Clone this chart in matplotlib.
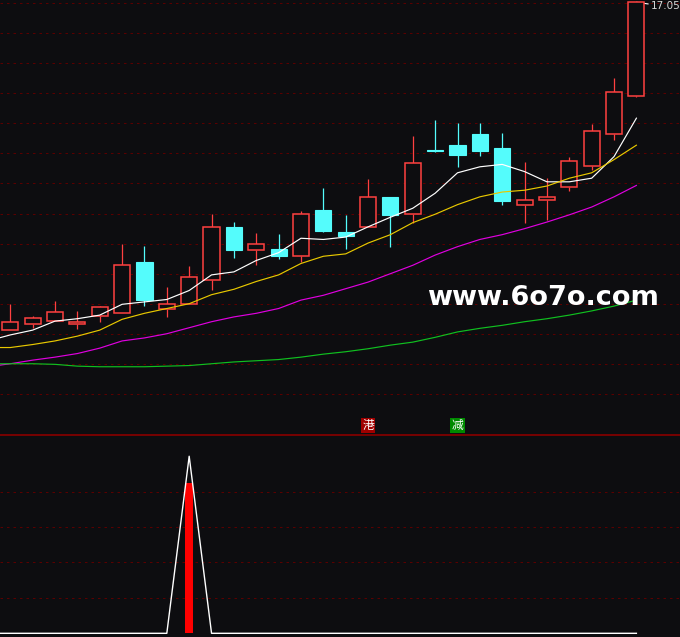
import matplotlib
matplotlib.use("Agg")
import matplotlib.pyplot as plt
from matplotlib.patches import Rectangle
import numpy as np

# daily candles (open, high, low, close)
opens  = [11.60, 11.70, 11.74, 11.70, 11.83, 11.88, 12.72, 11.94, 12.03, 12.43,
          13.30, 12.93, 12.94, 12.83, 13.59, 13.22, 13.30, 13.80, 13.53, 14.59,
          14.67, 14.85, 14.62, 13.68, 13.76, 13.98, 14.32, 14.85, 15.49]
highs  = [12.02, 11.82, 12.07, 11.91, 11.99, 13.02, 12.99, 12.31, 12.66, 13.52,
          13.39, 13.20, 13.19, 13.57, 13.96, 13.51, 14.11, 13.80, 14.82, 15.09,
          15.04, 15.04, 14.87, 14.39, 14.12, 14.48, 15.02, 15.79, 17.05]
lows   = [11.60, 11.62, 11.74, 11.61, 11.73, 11.88, 11.99, 11.81, 12.03, 12.25,
          12.79, 12.68, 12.78, 12.72, 13.23, 12.94, 13.30, 12.98, 13.37, 14.56,
          14.31, 14.49, 13.68, 13.38, 13.42, 13.91, 14.26, 14.76, 15.48]
closes = [11.73, 11.80, 11.90, 11.73, 11.97, 12.68, 12.09, 12.03, 12.47, 13.30,
          12.93, 13.03, 12.83, 13.53, 13.24, 13.16, 13.80, 13.51, 14.38, 14.57,
          14.51, 14.58, 13.74, 13.75, 13.80, 14.40, 14.90, 15.55, 17.05]

# moving averages, first value is the day before the first candle
ma5  = [11.41, 11.51, 11.59, 11.74, 11.78, 11.84, 12.02, 12.06, 12.10, 12.25, 12.51,
        12.56, 12.75, 12.88, 13.12, 13.10, 13.14, 13.31, 13.47, 13.62, 13.87,
        14.21, 14.31, 14.35, 14.23, 14.06, 14.06, 14.12, 14.48, 15.12]
ma10 = [11.30, 11.30, 11.35, 11.41, 11.49, 11.59, 11.77, 11.87, 11.95, 12.03, 12.18,
        12.27, 12.40, 12.51, 12.70, 12.82, 12.86, 13.04, 13.18, 13.38, 13.52,
        13.68, 13.81, 13.89, 13.92, 13.99, 14.12, 14.21, 14.43, 14.67]
ma30 = [10.98, 11.03, 11.09, 11.14, 11.20, 11.29, 11.41, 11.46, 11.53, 11.63, 11.73,
        11.81, 11.87, 11.95, 12.09, 12.17, 12.28, 12.39, 12.53, 12.67, 12.84,
        12.98, 13.10, 13.18, 13.28, 13.39, 13.51, 13.64, 13.81, 14.00]
ma60 = [11.03, 11.03, 11.03, 11.02, 10.99, 10.98, 10.98, 10.98, 10.99, 11.00, 11.03,
        11.06, 11.08, 11.10, 11.14, 11.19, 11.23, 11.28, 11.34, 11.39, 11.47,
        11.56, 11.62, 11.67, 11.73, 11.78, 11.84, 11.91, 11.99, 12.09]

# signal labels on the price panel
sig_idx = [16, 20]
sig_txt = ["港", "减"]
sig_col = ["#a00000", "#008a00"]

# lower indicator (day before first candle included)
ind_line = [0, 0, 0, 0, 0, 0, 0, 0, 0, 100, 0, 0, 0, 0, 0, 0, 0, 0, 0, 0,
            0, 0, 0, 0, 0, 0, 0, 0, 0, 0]
bar_idx = [8]
bar_val = [85]

top_label = "17.05"

BG = "#0d0d10"
UP = "#ff4040"
DN = "#54fcfc"
GRID = "#5a0000"

fig = plt.figure(figsize=(6.8, 6.37), dpi=100, facecolor=BG)
sep = 434.3 / 637
ax = fig.add_axes([0, 1 - sep, 1, sep], facecolor=BG)
ax2 = fig.add_axes([0, 0, 1, 1 - sep], facecolor=BG)

n = len(opens)
x = np.arange(n)
xl = (-0.46, 29.95)

# price panel
for g in 17.043 - 0.5017 * np.arange(14):
    ax.axhline(g, color=GRID, lw=0.72, ls=(0, (2.5, 4)), zorder=0)

w = 0.72
for i in range(n):
    o, h, l, c = opens[i], highs[i], lows[i], closes[i]
    if c >= o:
        ax.vlines(i, c, h, color=UP, lw=0.9, zorder=3)
        ax.vlines(i, l, o, color=UP, lw=0.9, zorder=3)
        ax.add_patch(Rectangle((i - w / 2, o), w, max(c - o, 0.01), facecolor=BG,
                               edgecolor=UP, lw=1.1, zorder=4))
    else:
        ax.vlines(i, l, h, color=DN, lw=0.9, zorder=3)
        ax.add_patch(Rectangle((i - w / 2, c), w, max(o - c, 0.02), facecolor=DN,
                               edgecolor=DN, lw=0.8, zorder=4))

xm = np.arange(-1, n)
ax.plot(xm, ma5, color="white", lw=0.85, zorder=5)
ax.plot(xm, ma10, color="#e8c800", lw=0.85, zorder=5)
ax.plot(xm, ma30, color="#e000e0", lw=0.85, zorder=5)
ax.plot(xm, ma60, color="#10c020", lw=0.85, zorder=5)

for i, t, col in zip(sig_idx, sig_txt, sig_col):
    ax.text(i, 9.89, t, color="white", fontsize=8.5, ha="center", va="bottom",
            family=["Noto Sans CJK SC", "DejaVu Sans"], zorder=6,
            bbox=dict(boxstyle="square,pad=0.1", facecolor=col, edgecolor="none"))

ax.annotate(top_label, xy=(n - 1, highs[-1]), xytext=(10.5, -3), textcoords="offset points",
            color="#d8d8d8", fontsize=7.5, va="center", ha="left",
            arrowprops=dict(arrowstyle="-", color="white", lw=0.8, shrinkA=0, shrinkB=0))

ax.set_xlim(*xl)
ax.set_ylim(9.855, 17.088)
ax.axis("off")

fig.text(543 / 680, 1 - 298 / 637, "www.6o7o.com", color="white", fontsize=19.5,
         fontweight="bold", ha="center", va="center", zorder=10)

# indicator panel
for g in [20, 40, 60, 80]:
    ax2.axhline(g, color=GRID, lw=0.72, ls=(0, (2.5, 4)), zorder=0)
ax2.axhline(112.2, color="#800000", lw=1.3, zorder=1)
ax2.bar(bar_idx, bar_val, width=0.33, color="#ff0000", zorder=2)
ax2.plot(xm, ind_line, color="white", lw=1.0, zorder=3)
ax2.set_xlim(*xl)
ax2.set_ylim(-2.09, 112.4)
ax2.axis("off")

fig.savefig("out.png", dpi=100, facecolor=BG)
